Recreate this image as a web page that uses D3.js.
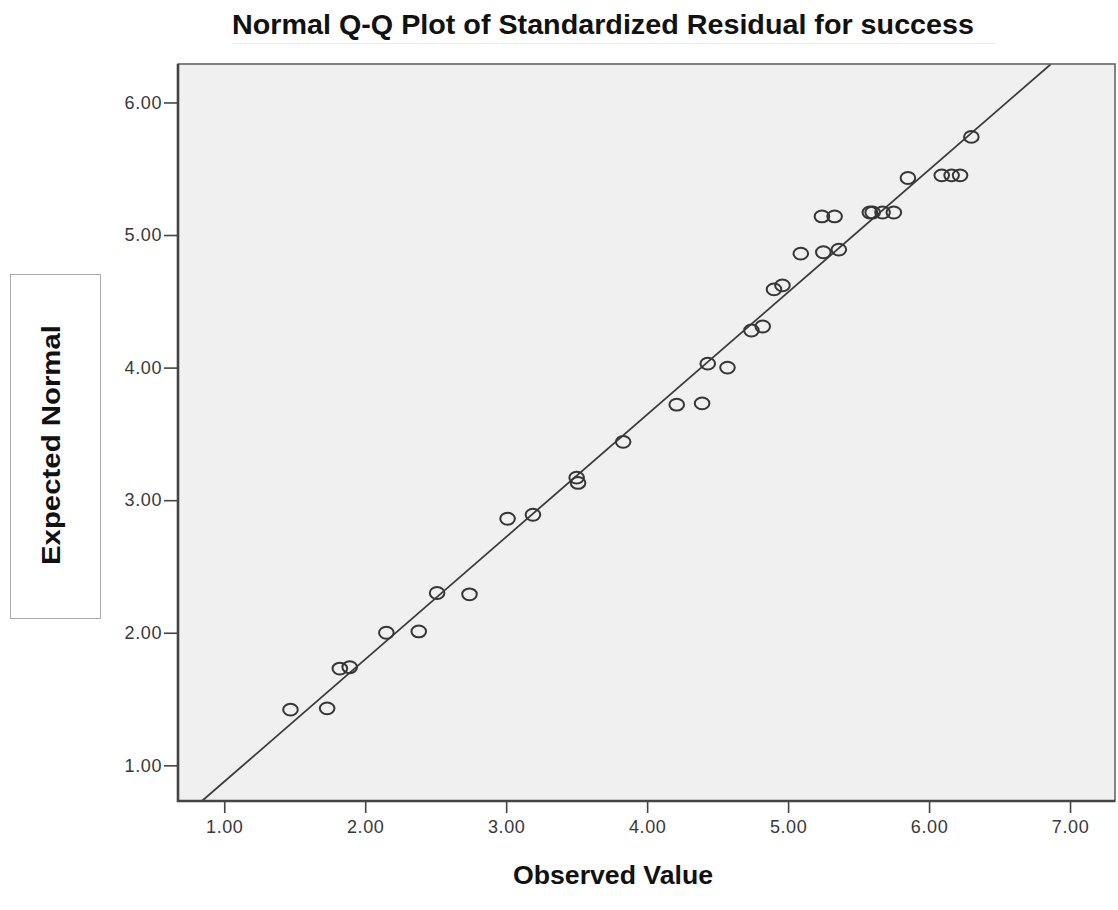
<!DOCTYPE html>
<html lang="en">
<head>
<meta charset="utf-8">
<title>Normal Q-Q Plot</title>
<style>
  body {margin: 0; background: #fff; font-family: "Liberation Sans", Arial, sans-serif;}
  svg  {display: block;}
  .tick line {stroke: #444; stroke-width: 1.6;}
  .domain {display: none;}
</style>
</head>
<body>
<svg id="chart" width="1118" height="910"></svg>

<script src="https://d3js.org/d3.v7.min.js"></script>
<script>
const observed = [1.47, 1.73, 1.82, 1.89, 2.15, 2.38, 2.51, 2.74, 3.01, 3.19,
                  3.50, 3.51, 3.83, 4.21, 4.39, 4.43, 4.57, 4.74, 4.82, 4.90,
                  4.96, 5.09, 5.25, 5.36, 5.24, 5.33, 5.58, 5.60, 5.67, 5.75,
                  5.85, 6.09, 6.16, 6.22, 6.30];
const expected = [1.42, 1.43, 1.73, 1.74, 2.00, 2.01, 2.30, 2.29, 2.86, 2.89,
                  3.17, 3.13, 3.44, 3.72, 3.73, 4.03, 4.00, 4.28, 4.31, 4.59,
                  4.62, 4.86, 4.87, 4.89, 5.14, 5.14, 5.17, 5.17, 5.17, 5.17,
                  5.43, 5.45, 5.45, 5.45, 5.74];
// reference line end points (x, y)
const lineX = [0.842, 6.865];
const lineY = [0.731, 6.29];
const xTicks = [1, 2, 3, 4, 5, 6, 7];
const yTicks = [1, 2, 3, 4, 5, 6];

const svg = d3.select("#chart");
const pLeft = 178, pRight = 1115, pTop = 64, pBottom = 801;

const x = d3.scaleLinear().domain([0.672, 7.319]).range([pLeft, pRight]);
const y = d3.scaleLinear().domain([0.731, 6.29]).range([pBottom, pTop]);

// title + faint underline
svg.append("text")
   .attr("x", 603).attr("y", 34)
   .attr("text-anchor", "middle")
   .attr("font-weight", "bold").attr("font-size", 28)
   .attr("textLength", 742).attr("lengthAdjust", "spacingAndGlyphs")
   .attr("fill", "#111")
   .text("Normal Q-Q Plot of Standardized Residual for success");
svg.append("line")
   .attr("x1", 233).attr("x2", 997).attr("y1", 43.5).attr("y2", 43.5)
   .attr("stroke", "#ececec").attr("stroke-width", 1);

// plot area
svg.append("clipPath").attr("id", "clip")
   .append("rect").attr("x", pLeft).attr("y", pTop)
   .attr("width", pRight - pLeft).attr("height", pBottom - pTop);

svg.append("rect")
   .attr("x", pLeft).attr("y", pTop)
   .attr("width", pRight - pLeft).attr("height", pBottom - pTop)
   .attr("fill", "#f0f0f0");

// reference line
svg.append("line")
   .attr("clip-path", "url(#clip)")
   .attr("x1", x(lineX[0])).attr("y1", y(lineY[0]))
   .attr("x2", x(lineX[1])).attr("y2", y(lineY[1]))
   .attr("stroke", "#3a3a3a").attr("stroke-width", 1.8);

// points
svg.append("g")
   .selectAll("ellipse")
   .data(observed.map((v, i) => [v, expected[i]]))
   .join("ellipse")
     .attr("cx", d => x(d[0]))
     .attr("cy", d => y(d[1]))
     .attr("rx", 7.3).attr("ry", 5.9)
     .attr("fill", "none")
     .attr("stroke", "#363636").attr("stroke-width", 2);

// frame
svg.append("rect")
   .attr("x", pLeft).attr("y", pTop)
   .attr("width", pRight - pLeft).attr("height", pBottom - pTop)
   .attr("fill", "none").attr("stroke", "#666").attr("stroke-width", 1.6);
svg.append("path")
   .attr("d", `M${pLeft},${pTop}V${pBottom}H${pRight}`)
   .attr("fill", "none").attr("stroke", "#444").attr("stroke-width", 2.6);

// axes
const gx = svg.append("g")
   .attr("transform", `translate(0,${pBottom + 1})`)
   .call(d3.axisBottom(x).tickValues(xTicks).tickFormat(d3.format(".2f"))
          .tickSizeOuter(0).tickSize(11).tickPadding(7));
const gy = svg.append("g")
   .attr("transform", `translate(${pLeft - 1},0)`)
   .call(d3.axisLeft(y).tickValues(yTicks).tickFormat(d3.format(".2f"))
          .tickSizeOuter(0).tickSize(13).tickPadding(2));
[gx, gy].forEach(g => g.attr("font-size", 18)
   .attr("font-family", "'Liberation Sans', Arial, sans-serif")
   .selectAll(".tick text").attr("fill", "#383838").attr("letter-spacing", 0.6));

// axis titles
svg.append("text")
   .attr("x", 613).attr("y", 884)
   .attr("text-anchor", "middle")
   .attr("font-weight", "bold").attr("font-size", 25)
   .attr("textLength", 200).attr("lengthAdjust", "spacingAndGlyphs")
   .attr("fill", "#111")
   .text("Observed Value");

svg.append("rect")
   .attr("x", 10.5).attr("y", 274.5).attr("width", 90).attr("height", 344)
   .attr("fill", "#fff").attr("stroke", "#aaa").attr("stroke-width", 1);
svg.append("text")
   .attr("transform", "translate(60,445) rotate(-90)")
   .attr("text-anchor", "middle")
   .attr("font-weight", "bold").attr("font-size", 25)
   .attr("textLength", 240).attr("lengthAdjust", "spacingAndGlyphs")
   .attr("fill", "#111")
   .text("Expected Normal");
</script>
</body>
</html>
